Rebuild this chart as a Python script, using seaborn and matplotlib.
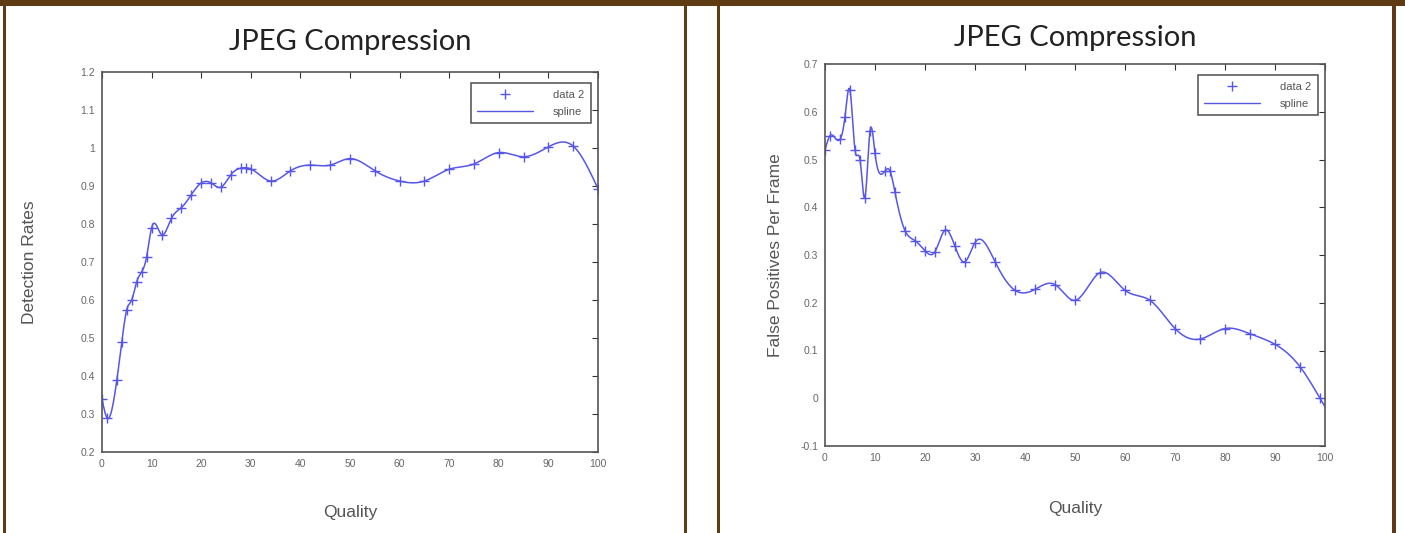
import numpy as np
import seaborn as sns
import matplotlib
matplotlib.use("Agg")
import matplotlib.pyplot as plt
from matplotlib.patches import Rectangle
from matplotlib.lines import Line2D

# detection rate vs JPEG quality (left)
det_q = [0, 1, 3, 4, 5, 6, 7, 8, 9, 10, 12, 14, 16, 18, 20, 22, 24, 26, 28, 29, 30,
         34, 38, 42, 46, 50, 55, 60, 65, 70, 75, 80, 85, 90, 95, 100]
det_rate = [0.34, 0.29, 0.39, 0.49, 0.575, 0.60, 0.648, 0.674, 0.714, 0.79, 0.772,
            0.815, 0.843, 0.877, 0.908, 0.908, 0.897, 0.93, 0.947, 0.948, 0.945,
            0.913, 0.94, 0.955, 0.955, 0.972, 0.94, 0.913, 0.913, 0.944, 0.958,
            0.988, 0.977, 1.003, 1.005, 0.893]

# false positives per frame vs JPEG quality (right)
fp_q = [0, 1, 3, 4, 5, 6, 7, 8, 9, 10, 12, 13, 14, 16, 18, 20, 22, 24, 26, 28, 30,
        34, 38, 42, 46, 50, 55, 60, 65, 70, 75, 80, 85, 90, 95, 99]
fp_rate = [0.52, 0.55, 0.542, 0.59, 0.645, 0.52, 0.50, 0.42, 0.56, 0.513, 0.476,
           0.476, 0.431, 0.351, 0.33, 0.309, 0.307, 0.352, 0.318, 0.286, 0.326,
           0.286, 0.226, 0.228, 0.238, 0.205, 0.263, 0.226, 0.205, 0.146, 0.124,
           0.146, 0.135, 0.113, 0.066, 0.0]

det_yticks = [0.2, 0.3, 0.4, 0.5, 0.6, 0.7, 0.8, 0.9, 1.0, 1.1, 1.2]
det_ylabels = ["0.2", "0.3", "0.4", "0.5", "0.6", "0.7", "0.8", "0.9", "1", "1.1", "1.2"]
fp_yticks = [-0.1, 0, 0.1, 0.2, 0.3, 0.4, 0.5, 0.6, 0.7]
fp_ylabels = ["-0.1", "0", "0.1", "0.2", "0.3", "0.4", "0.5", "0.6", "0.7"]
xticks = list(range(0, 101, 10))


def natural_spline(x, y, xs):
    # plain natural cubic spline, like matlab's spline tool in the figure
    x = np.asarray(x, float)
    y = np.asarray(y, float)
    n = len(x)
    h = np.diff(x)
    A = np.zeros((n, n))
    b = np.zeros(n)
    A[0, 0] = A[-1, -1] = 1
    for i in range(1, n - 1):
        A[i, i - 1] = h[i - 1]
        A[i, i] = 2 * (h[i - 1] + h[i])
        A[i, i + 1] = h[i]
        b[i] = 3 * ((y[i + 1] - y[i]) / h[i] - (y[i] - y[i - 1]) / h[i - 1])
    c = np.linalg.solve(A, b)
    bb = (y[1:] - y[:-1]) / h - h * (2 * c[:-1] + c[1:]) / 3
    d = (c[1:] - c[:-1]) / (3 * h)
    k = np.clip(np.searchsorted(x, xs) - 1, 0, n - 2)
    t = xs - x[k]
    return y[k] + bb[k] * t + c[k] * t ** 2 + d[k] * t ** 3


sns.set_style("white")
plt.rcParams["font.family"] = ["Liberation Sans", "DejaVu Sans"]

blue = "#5656ea"
W, H = 1405, 533
fig = plt.figure(figsize=(W / 100, H / 100), dpi=100)


def fx(px):
    return px / W


def fy(py):
    return 1 - py / H


# brown frame like the page the figure was cut from
brown = "#5f3b14"
fig.add_artist(Rectangle((0, fy(6)), 1, 6 / H, transform=fig.transFigure,
                         color=brown, lw=0))
for x0, x1 in [(3, 6), (684, 687), (717, 720), (1392, 1396)]:
    fig.add_artist(Rectangle((fx(x0), 0), (x1 - x0) / W, 1, transform=fig.transFigure,
                             color=brown, lw=0))

panels = [
    dict(rect=(102, 72, 598, 452), q=det_q, v=det_rate, ylim=(0.2, 1.2),
         yticks=det_yticks, ylabels=det_ylabels, ylab="Detection Rates",
         title_y=42, xlab_y=512, ylab_x=30),
    dict(rect=(825, 64, 1325, 446), q=fp_q, v=fp_rate, ylim=(-0.1, 0.7),
         yticks=fp_yticks, ylabels=fp_ylabels, ylab="False Positives Per Frame",
         title_y=38, xlab_y=508, ylab_x=775),
]

for p in panels:
    l, t, r, b = p["rect"]
    ax = fig.add_axes([fx(l), fy(b), (r - l) / W, (b - t) / H])
    qs = np.linspace(0, 100, 600)
    curve = natural_spline(p["q"], p["v"], qs)
    sns.lineplot(x=qs, y=curve, ax=ax, color=blue, lw=1.1, sort=False)
    sns.scatterplot(x=p["q"], y=p["v"], ax=ax, marker="+", s=45, color=blue,
                    linewidth=1.0)
    ax.set_xlim(0, 100)
    ax.set_ylim(*p["ylim"])
    ax.set_xticks(xticks)
    ax.set_xticklabels([str(v) for v in xticks])
    ax.set_yticks(p["yticks"])
    ax.set_yticklabels(p["ylabels"])
    ax.tick_params(direction="in", length=4, width=0.8, top=True, right=True,
                   labelsize=7.5, labelcolor="#666666", color="#333333", pad=5)
    for s in ax.spines.values():
        s.set_color("#555555")
        s.set_linewidth(1.2)

    handles = [Line2D([], [], color=blue, marker="+", ls="", ms=7),
               Line2D([], [], color=blue, lw=1.0)]
    leg = ax.legend(handles, ["data 2", "spline"], loc="upper right",
                    bbox_to_anchor=(0.997, 0.985), fontsize=8, frameon=True,
                    fancybox=False, edgecolor="#222222", handlelength=5,
                    borderpad=0.6, labelspacing=0.6, handletextpad=1.8)
    leg.get_frame().set_linewidth(1.1)
    for txt in leg.get_texts():
        txt.set_color("#555555")

    cx = (l + r) / 2
    fig.text(fx(cx), fy(p["title_y"]), "JPEG Compression", ha="center", va="center",
             fontsize=21, color="#222222", family=["Lato", "DejaVu Sans"])
    fig.text(fx(cx), fy(p["xlab_y"]), "Quality", ha="center", va="center",
             fontsize=12.5, color="#555555")
    fig.text(fx(p["ylab_x"]), fy((t + b) / 2), p["ylab"], ha="center", va="center",
             rotation=90, fontsize=12.5, color="#555555")

fig.savefig("out.png", dpi=100, facecolor="white")
